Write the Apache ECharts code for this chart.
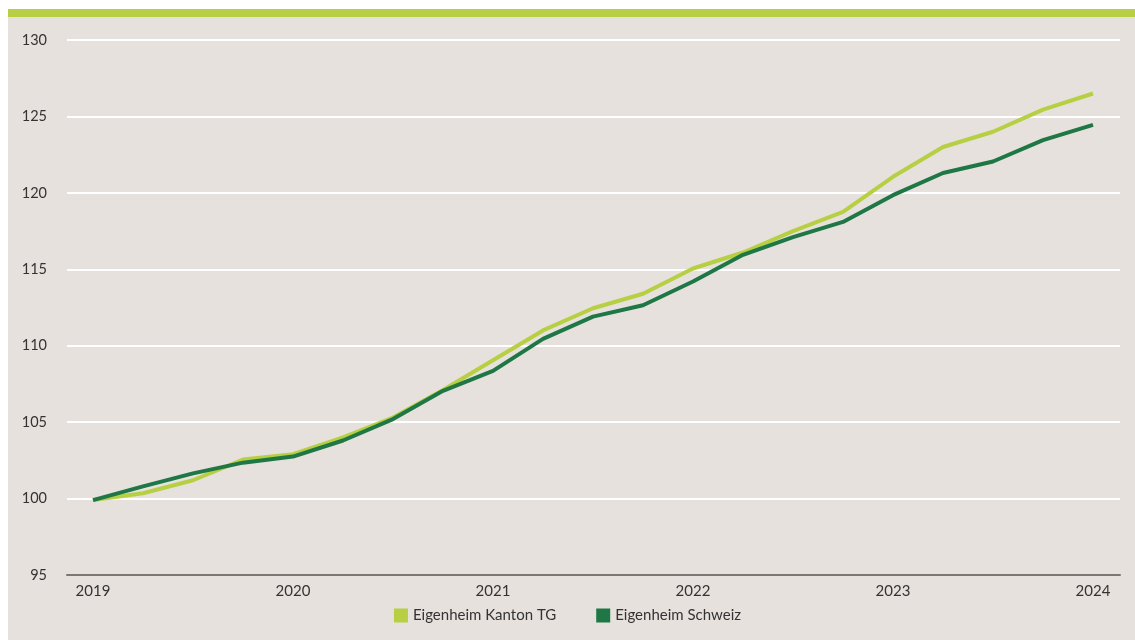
<!DOCTYPE html>
<html>
<head>
<meta charset="utf-8">
<script src="https://cdn.jsdelivr.net/npm/echarts@6/dist/echarts.min.js"></script>
<style>
  html, body { margin: 0; padding: 0; background: #ffffff; }
  .panel { position: absolute; left: 8px; top: 9px; width: 1127px; height: 631px; background: #e7e1de; border-top: 8px solid #b8cf45; box-sizing: border-box; }
  #chart { position: absolute; left: 0; top: 0; width: 1135px; height: 640px; }
</style>
</head>
<body>
<div class="panel"></div>
<div id="chart"></div>
<script>
  // Quartalswerte, Index 2019 = 100
  var quarters = ['2019 Q1','2019 Q2','2019 Q3','2019 Q4','2020 Q1','2020 Q2','2020 Q3','2020 Q4',
    '2021 Q1','2021 Q2','2021 Q3','2021 Q4','2022 Q1','2022 Q2','2022 Q3','2022 Q4',
    '2023 Q1','2023 Q2','2023 Q3','2023 Q4','2024 Q1'];
  var yearLabels = ['2019','2020','2021','2022','2023','2024'];
  var kantonTG = [99.9,100.35,101.2,102.55,102.9,104.0,105.3,107.1,109.05,111.0,112.45,113.4,
    115.05,116.1,117.5,118.75,121.05,123.0,124.0,125.45,126.5];
  var schweiz = [99.9,100.8,101.65,102.35,102.75,103.8,105.2,107.05,108.35,110.45,111.9,112.65,
    114.2,115.95,117.1,118.1,119.85,121.3,122.05,123.45,124.45];

  var myChart = echarts.init(document.getElementById('chart'));

  function toPairs(arr){
    var out = [];
    for(let i=0;i<arr.length;i++){
      out.push([i, arr[i]]);
    }
    return out;
  }

  var option = {
    backgroundColor: 'transparent',
    textStyle: { fontFamily: 'Lato, "Noto Sans", sans-serif' },
    animation: false,
    grid: { left: 67, right: 15, top: 40, bottom: 65 },
    legend: {
      bottom: 12,
      left: 'center',
      itemWidth: 14,
      itemHeight: 14,
      itemGap: 40,
      icon: 'rect',
      textStyle: { color: '#333333', fontSize: 15 },
      data: ['Eigenheim Kanton TG', 'Eigenheim Schweiz']
    },
    xAxis: {
      type: 'value',
      min: -0.52,
      max: 20.54,
      splitLine: { show: false },
      axisTick: { show: false },
      axisLine: { show: true, lineStyle: { color: '#7d7773', width: 2 } },
      axisLabel: {
        customValues: [0, 4, 8, 12, 16, 20],
        color: '#333333',
        fontSize: 15,
        margin: 9,
        formatter: function(v){
          return yearLabels[Math.round(v / 4)];
        }
      }
    },
    yAxis: {
      type: 'value',
      min: 95,
      max: 130,
      interval: 5,
      axisLine: { show: false },
      axisTick: { show: false },
      axisLabel: { color: '#333333', fontSize: 14.5, margin: 20 },
      splitLine: { lineStyle: { color: '#ffffff', width: 2 } }
    },
    series: [
      {
        name: 'Eigenheim Kanton TG',
        type: 'line',
        data: toPairs(kantonTG),
        symbol: 'none',
        itemStyle: { color: '#b7cf42' },
        lineStyle: { color: '#b7cf42', width: 4 }
      },
      {
        name: 'Eigenheim Schweiz',
        type: 'line',
        data: toPairs(schweiz),
        symbol: 'none',
        itemStyle: { color: '#1e7745' },
        lineStyle: { color: '#1e7745', width: 4 }
      }
    ]
  };
  myChart.setOption(option);
</script>
</body>
</html>
